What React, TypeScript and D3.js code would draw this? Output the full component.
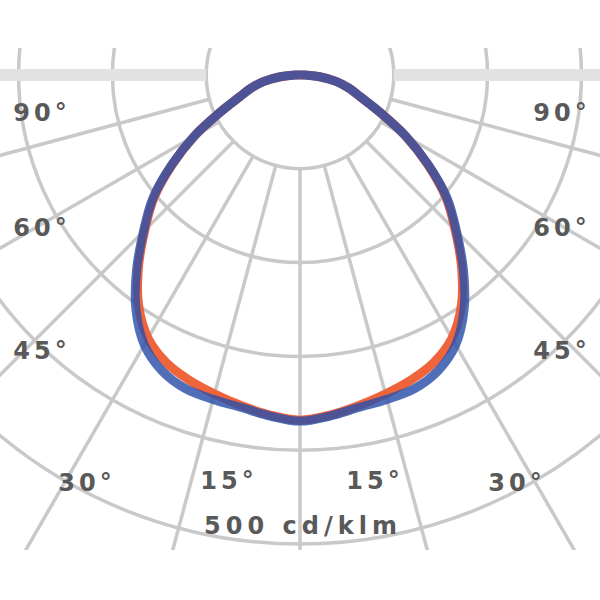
import React from "react";
import * as d3 from "d3";

// Polar angles (degrees from nadir) and luminous intensity (cd/klm)
const angles = [0, 5, 10, 15, 20, 25, 30, 35, 40, 45, 50, 55, 60, 65, 70, 75, 80, 85, 90, 95, 100, 120, 150, 180];
const intensityC0 = [368, 364, 358, 352, 346, 338, 324, 300, 268, 234, 203, 166, 130, 94, 69, 54, 39, 21, 5, 0, 0, 0, 0, 0];
const intensityC90 = [369, 365, 360, 358, 356, 348, 332, 305, 271, 236, 205, 167, 130, 94, 69, 54, 39, 21, 5, 0, 0, 0, 0, 0];

const ringValues = [100, 200, 300, 400, 500];
const spokeAngles = [0, 15, 30, 45, 60, 75];
const angleLabels = ["90°", "60°", "45°", "30°", "15°"];
const unitLabel = "500 cd/klm";

const W = 600;
const H = 600;
const cx = 300;
const cy = 75;
const rMax = 469;
// label layout (left side; right side mirrored)
const labelPos = [
  { dx: -260, y: 112 },
  { dx: -260, y: 227 },
  { dx: -260, y: 350 },
  { dx: -215, y: 482 },
  { dx: -73, y: 480 },
];

export default function App() {
  const r = d3.scaleLinear().domain([0, 500]).range([0, rMax]);
  const toRad = (deg: number) => (deg * Math.PI) / 180;

  const loop = (vals: number[]) => {
    const pts: [number, number][] = [];
    for (let i = angles.length - 1; i >= 0; i--) pts.push([Math.PI - toRad(angles[i]), r(vals[i])]);
    for (let i = 1; i < angles.length; i++) pts.push([Math.PI + toRad(angles[i]), r(vals[i])]);
    return pts;
  };

  const line = d3
    .lineRadial<[number, number]>()
    .angle((d) => d[0])
    .radius((d) => d[1])
    .curve(d3.curveCatmullRomClosed.alpha(0.5));

  const gridColor = "#c9c9c9";
  const r1 = r(ringValues[0]);
  const rOuter = r(700);

  return (
    <svg width={W} height={H} style={{ position: "absolute", left: 0, top: 0, background: "#fff" }}>
      <defs>
        <clipPath id="plotClip">
          <rect x={0} y={48} width={600} height={502} />
        </clipPath>
      </defs>
      <g clipPath="url(#plotClip)">
        <g transform={`translate(${cx},${cy})`}>
          {ringValues.map((v) => (
            <circle key={v} r={r(v)} fill="none" stroke={gridColor} strokeWidth={3.5} />
          ))}
          {[-1, 1].map((s) => (
            <line key={s} x1={s * r1} y1={0} x2={s * rOuter} y2={0} stroke="#e2e2e2" strokeWidth={12} />
          ))}
          {spokeAngles.flatMap((a) =>
            (a === 0 ? [1] : [-1, 1]).map((s) => (
              <line
                key={`${a}-${s}`}
                x1={s * r1 * Math.sin(toRad(a))}
                y1={r1 * Math.cos(toRad(a))}
                x2={s * rOuter * Math.sin(toRad(a))}
                y2={rOuter * Math.cos(toRad(a))}
                stroke={gridColor}
                strokeWidth={3.5}
              />
            ))
          )}
          <path d={line(loop(intensityC0)) || ""} fill="none" stroke="#f0643c" strokeWidth={9} strokeLinejoin="round" />
          <path
            d={line(loop(intensityC90)) || ""}
            fill="none"
            stroke="#2a4fa8"
            strokeOpacity={0.82}
            strokeWidth={9}
            strokeLinejoin="round"
          />
        </g>
      </g>
      <g fontFamily="DejaVu Sans, sans-serif" fontSize={24} fontWeight="bold" fill="#595959" textAnchor="middle">
        {angleLabels.map((t, i) =>
          [-1, 1].map((s) => (
            <text key={`${t}-${s}`} x={cx + s * labelPos[i].dx + 2} y={labelPos[i].y + 9} letterSpacing={4}>
              {t}
            </text>
          ))
        )}
        <text x={cx + 3} y={534} letterSpacing={5}>
          {unitLabel}
        </text>
      </g>
    </svg>
  );
}
